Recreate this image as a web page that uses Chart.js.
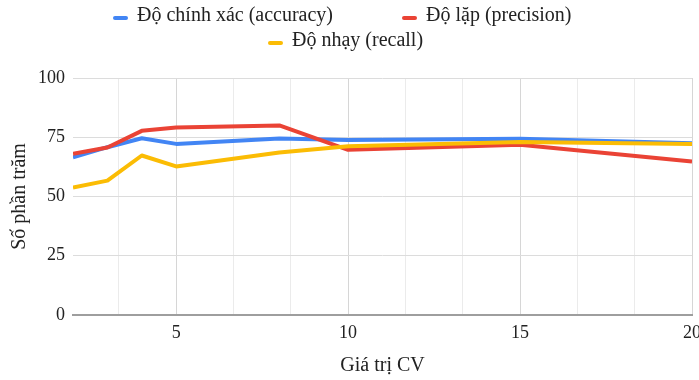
<!DOCTYPE html>
<html>
<head>
<meta charset="utf-8">
<script src="https://cdn.jsdelivr.net/npm/chart.js@4.4.1/dist/chart.umd.min.js"></script>
<style>
  body { margin: 0; background: #fff; }
  #wrap { position: relative; width: 699px; height: 380px; }
  #legend { position: absolute; left: 0; top: 0; width: 699px; height: 60px; font-family: 'Liberation Serif', serif; color: #222; }
  .item { position: absolute; white-space: nowrap; }
  .mark { position: absolute; width: 15px; height: 4px; border-radius: 2px; }
  .txt { position: absolute; font-size: 20px; line-height: 20px; }
</style>
</head>
<body>
<div id="wrap">
  <canvas id="chart"></canvas>
  <div id="legend"></div>
</div>
<script>
var cvValues = [2, 3, 4, 5, 8, 10, 15, 20];
var accuracy = [66.5, 70.8, 74.6, 72.2, 74.5, 73.8, 74.4, 72.5];
var precision = [68, 70.7, 77.7, 79.1, 80, 69.7, 71.8, 64.8];
var recall = [53.8, 56.7, 67.3, 62.7, 68.6, 71.2, 73, 72.2];
var seriesNames = ['Độ chính xác (accuracy)', 'Độ lặp (precision)', 'Độ nhạy (recall)'];
var seriesColors = ['#4285f4', '#ea4335', '#fbbc04'];
var yTicks = [0, 25, 50, 75, 100];
var xTicks = [10 / 3, 5, 20 / 3, 25 / 3, 10, 35 / 3, 40 / 3, 15, 50 / 3, 55 / 3, 20];

// legend spots (marker left, row) like the reference
var legendSpots = [[113, 0], [402, 0], [268, 1]];

var toPoints = (ys) => cvValues.map((x, i) => ({ x: x, y: ys[i] }));

var font = (size) => ({ family: "'Liberation Serif', serif", size: size });

var isMajor = (v) => Math.abs(v / 5 - Math.round(v / 5)) < 1e-6;

var makeSet = (i, ys, order) => ({
	label: seriesNames[i],
	data: toPoints(ys),
	borderColor: seriesColors[i],
	backgroundColor: seriesColors[i],
	borderWidth: 4,
	pointRadius: 0,
	pointHoverRadius: 0,
	tension: 0,
	borderJoinStyle: 'round',
	order: order
});

var chart = new Chart(document.getElementById('chart'), {
	type: 'line',
	data: {
		datasets: [
			makeSet(0, accuracy, 3),
			makeSet(1, precision, 2),
			makeSet(2, recall, 1)
		]
	},
	options: {
		responsive: true,
		maintainAspectRatio: false,
		animation: false,
		layout: { padding: { top: 78, right: 7, bottom: 0, left: 0 } },
		plugins: {
			legend: { display: false },
			tooltip: { enabled: false }
		},
		scales: {
			x: {
				type: 'linear',
				min: 2,
				max: 20,
				afterBuildTicks: (s) => { s.ticks = xTicks.map((v) => ({ value: v })); },
				afterFit: (s) => { s.height = 65; s.paddingLeft = 0; s.paddingRight = 0; },
				ticks: {
					autoSkip: false,
					maxRotation: 0,
					padding: 7,
					color: '#222',
					font: font(18),
					callback: (v) => isMajor(v) ? String(Math.round(v)) : ''
				},
				grid: {
					drawTicks: false,
					color: (c) => isMajor(c.tick.value) ? '#d6d6d6' : '#ebebeb',
					lineWidth: 1
				},
				border: { color: '#9e9e9e', width: 2 },
				title: {
					display: true,
					text: 'Giá trị CV',
					color: '#222',
					font: font(20),
					padding: { top: 0, bottom: 2 }
				}
			},
			y: {
				min: 0,
				max: 100,
				afterBuildTicks: (s) => { s.ticks = yTicks.map((v) => ({ value: v })); },
				afterFit: (s) => { s.width = 73; },
				ticks: {
					padding: 8,
					color: '#222',
					font: font(18)
				},
				grid: { drawTicks: false, color: '#dcdcdc' },
				border: { display: false },
				title: {
					display: true,
					text: 'Số phần trăm',
					color: '#222',
					font: font(20),
					padding: { top: 8, bottom: 0 }
				}
			}
		}
	}
});

// html legend built from the chart's own legend labels
var drawLegend = () => {
	var box = document.getElementById('legend');
	var items = Chart.defaults.plugins.legend.labels.generateLabels(chart)
		.sort((a, b) => a.datasetIndex - b.datasetIndex);
	items.forEach((it, i) => {
		var spot = legendSpots[i];
		var top = spot[1] * 25.5;
		var el = document.createElement('div');
		el.className = 'item';
		el.innerHTML = '<div class="mark" style="left:' + spot[0] + 'px;top:' + (15.5 + top) + 'px;background:' + it.strokeStyle + '"></div>' +
			'<div class="txt" style="left:' + (spot[0] + 24) + 'px;top:' + (3.8 + top) + 'px">' + it.text + '</div>';
		box.appendChild(el);
	});
}

drawLegend();
</script>
</body>
</html>
